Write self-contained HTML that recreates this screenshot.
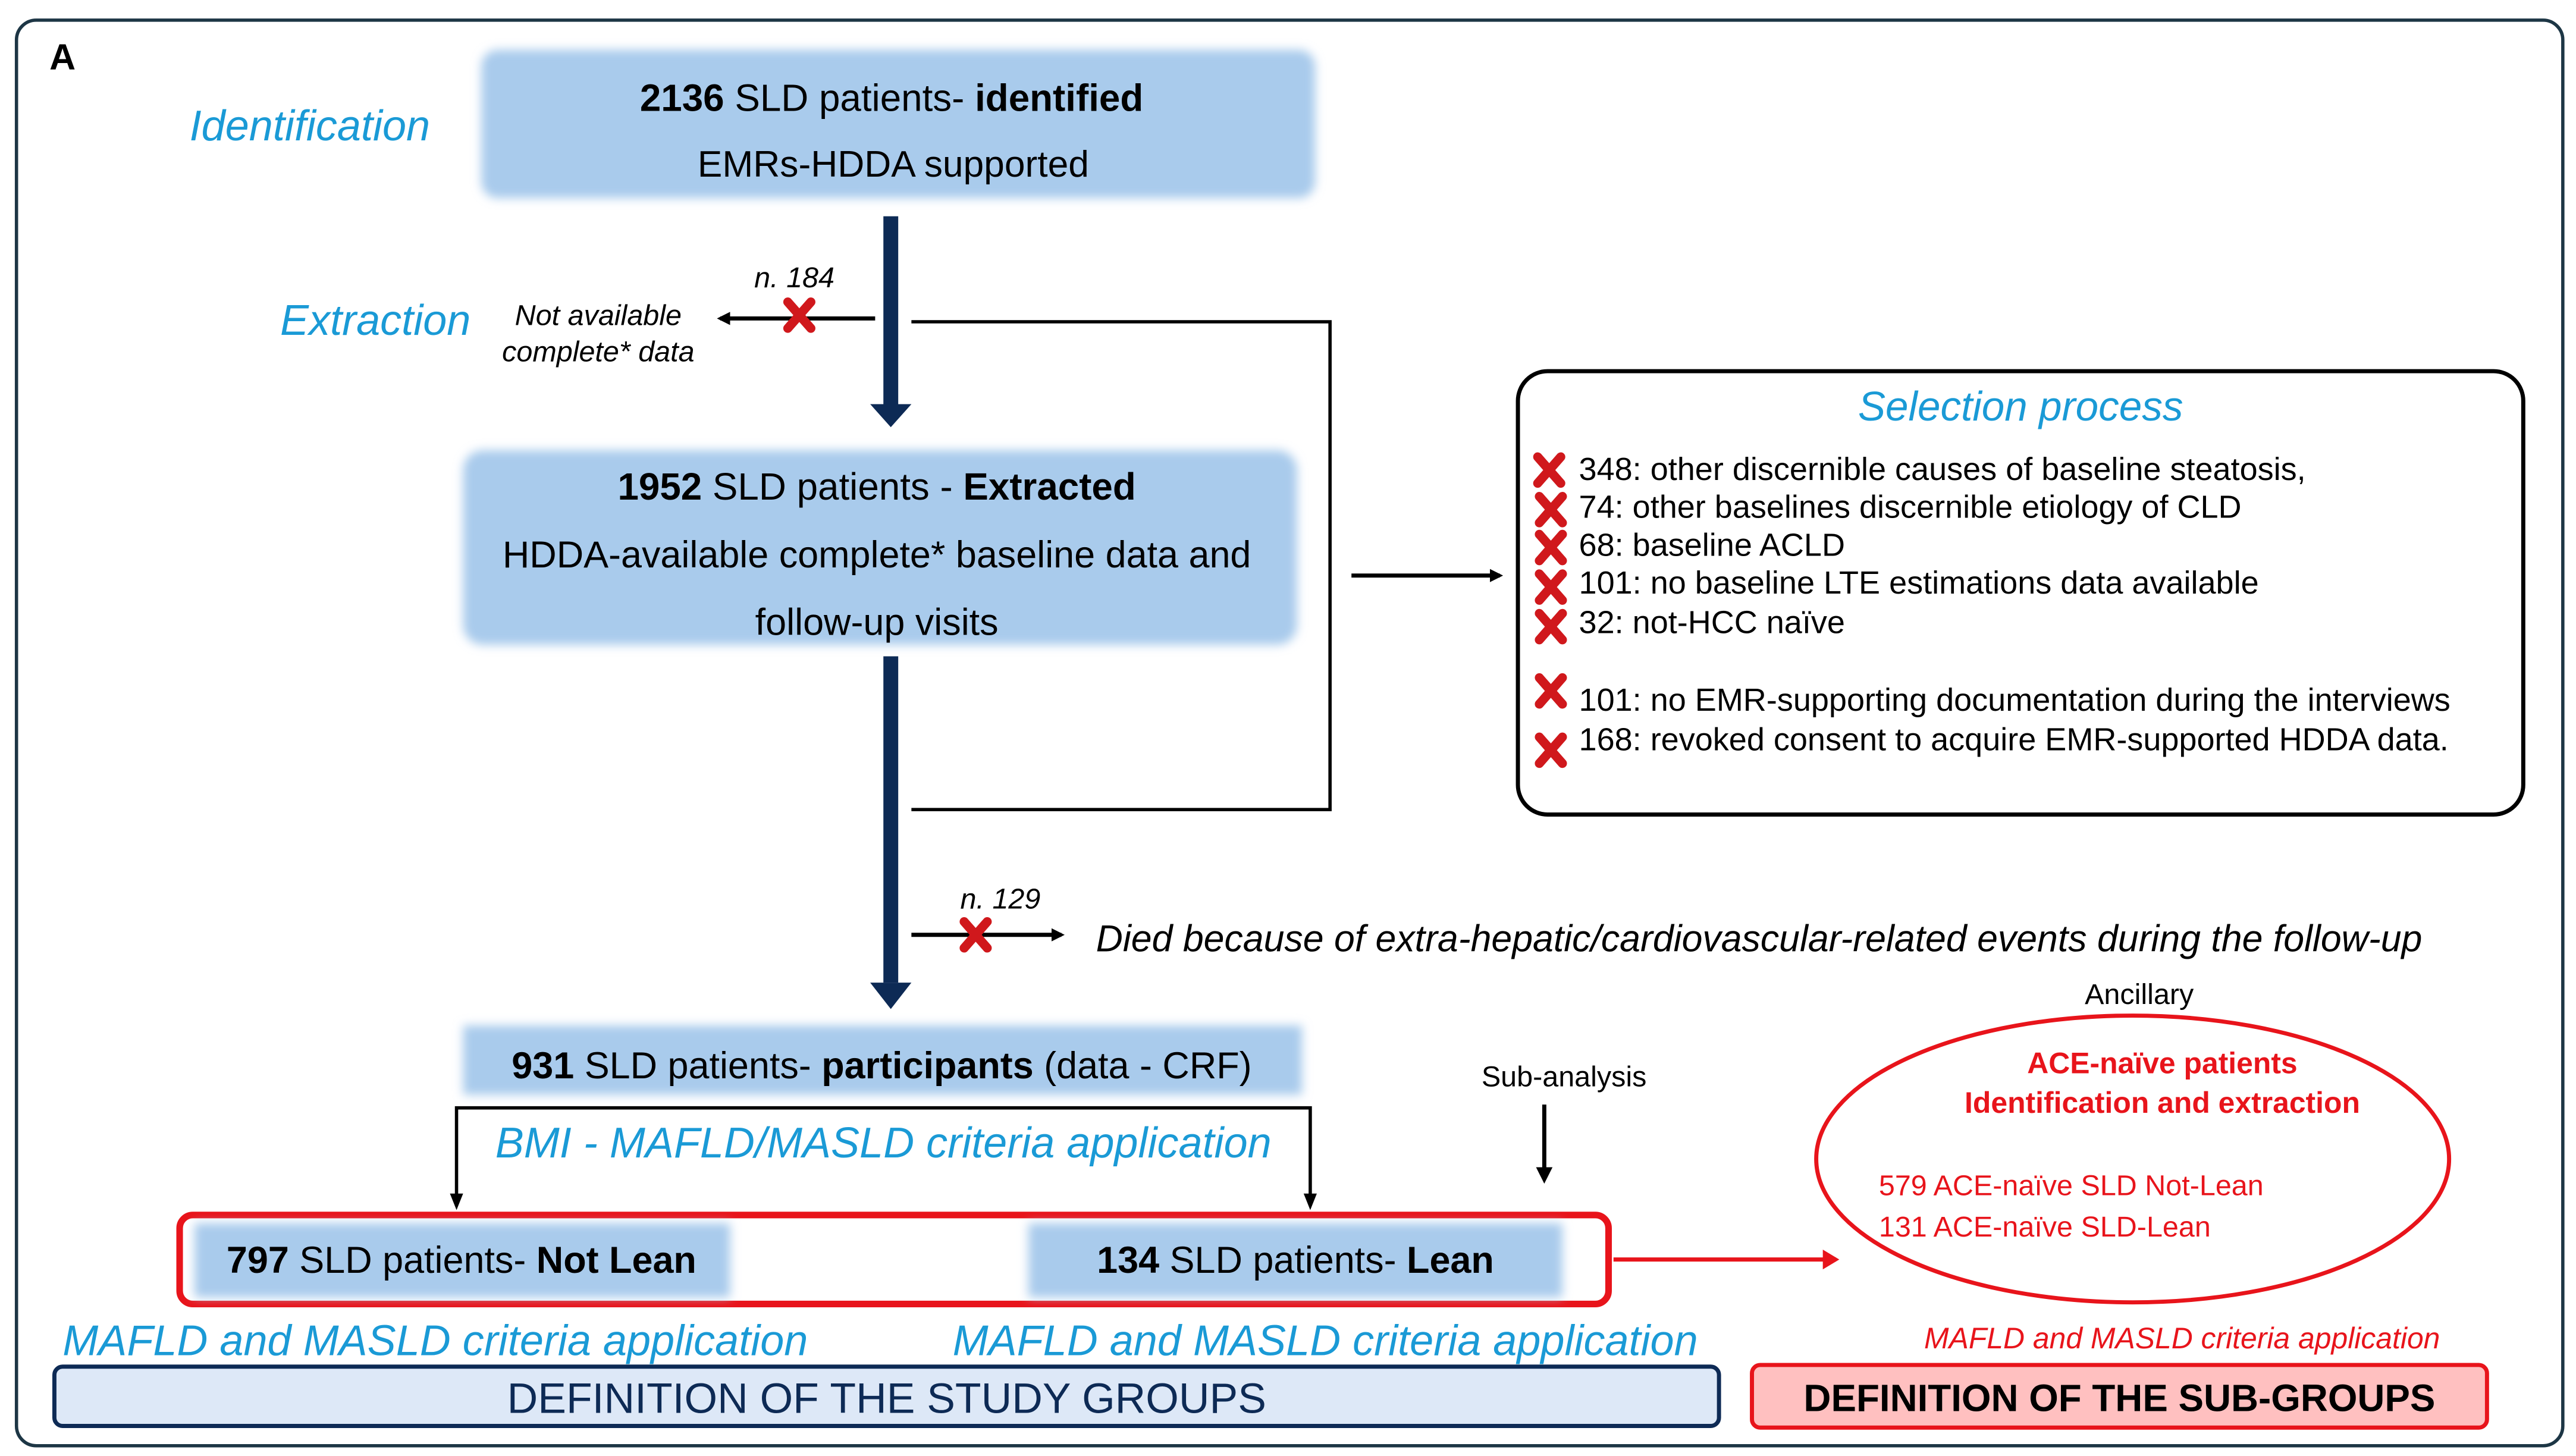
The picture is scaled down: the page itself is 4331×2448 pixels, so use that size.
<!DOCTYPE html>
<html><head><meta charset="utf-8"><style>html,body{margin:0;padding:0;background:#fff}svg{display:block}</style></head>
<body>
<svg width="4331" height="2448" viewBox="0 0 1563 883" xmlns="http://www.w3.org/2000/svg" font-family="Liberation Sans, sans-serif">
<defs>
<filter id="b" x="-5%" y="-20%" width="110%" height="140%"><feGaussianBlur stdDeviation="3"/></filter>
<marker id="ah" markerWidth="8" markerHeight="8" refX="6" refY="4" orient="auto" markerUnits="userSpaceOnUse"><path d="M0,0 L8,4 L0,8 z" fill="#000"/></marker>
<marker id="ahr" markerWidth="10" markerHeight="12" refX="8" refY="6" orient="auto" markerUnits="userSpaceOnUse"><path d="M0,0 L10,6 L0,12 z" fill="#e8141b"/></marker>
<g id="x"><path d="M-7,-8 L7,8 M7,-8 L-7,8" stroke="#d0181c" stroke-width="5.5" stroke-linecap="round"/></g>
</defs>
<rect x="10" y="12" width="1545" height="865" rx="12" fill="#fff" stroke="#1d3645" stroke-width="2"/>
<text x="30" y="42" font-size="22" font-weight="bold">A</text>

<rect x="292" y="30" width="506" height="90" rx="10" fill="#a9cbec" filter="url(#b)"/>
<text x="541" y="67" font-size="23" text-anchor="middle"><tspan font-weight="bold">2136</tspan> SLD patients- <tspan font-weight="bold">identified</tspan></text>
<text x="542" y="107" font-size="22.5" text-anchor="middle">EMRs-HDDA supported</text>
<text x="115" y="85" font-size="26" font-style="italic" fill="#1a9ad6">Identification</text>

<rect x="536" y="131" width="9" height="114" fill="#0d2a55"/>
<path d="M528,245 L553,245 L540.5,259 z" fill="#0d2a55"/>
<text x="482" y="174" font-size="17.5" font-style="italic" text-anchor="middle">n. 184</text>
<line x1="531" y1="193" x2="437" y2="193" stroke="#000" stroke-width="2.5" marker-end="url(#ah)"/>
<use href="#x" x="485" y="191"/>
<text x="363" y="197" font-size="17.5" font-style="italic" text-anchor="middle">Not available</text>
<text x="363" y="219" font-size="17.5" font-style="italic" text-anchor="middle">complete* data</text>
<text x="170" y="203" font-size="26" font-style="italic" fill="#1a9ad6">Extraction</text>

<polyline points="553,195 807,195 807,491 553,491" fill="none" stroke="#000" stroke-width="2"/>
<line x1="820" y1="349" x2="910" y2="349" stroke="#000" stroke-width="2.5" marker-end="url(#ah)"/>

<rect x="281" y="273" width="506" height="118" rx="12" fill="#a9cbec" filter="url(#b)"/>
<text x="532" y="303" font-size="23" text-anchor="middle"><tspan font-weight="bold">1952</tspan> SLD patients - <tspan font-weight="bold">Extracted</tspan></text>
<text x="532" y="344" font-size="22.7" text-anchor="middle">HDDA-available complete* baseline data and</text>
<text x="532" y="385" font-size="22.7" text-anchor="middle">follow-up visits</text>

<rect x="536" y="398" width="9" height="198" fill="#0d2a55"/>
<path d="M528,596 L553,596 L540.5,612 z" fill="#0d2a55"/>
<text x="607" y="551" font-size="17.5" font-style="italic" text-anchor="middle">n. 129</text>
<line x1="553" y1="567" x2="644" y2="567" stroke="#000" stroke-width="2.5" marker-end="url(#ah)"/>
<use href="#x" x="592" y="567"/>
<text x="665" y="577" font-size="22.6" font-style="italic">Died because of extra-hepatic/cardiovascular-related events during the follow-up</text>

<rect x="921" y="225" width="610" height="269" rx="18" fill="#fff" stroke="#000" stroke-width="2.5"/>
<text x="1226" y="255" font-size="25" font-style="italic" fill="#1a9ad6" text-anchor="middle">Selection process</text>
<g font-size="19.5">
<use href="#x" x="940" y="285"/><text x="958" y="291">348: other discernible causes of baseline steatosis,</text>
<use href="#x" x="941" y="309"/><text x="958" y="314">74: other baselines discernible etiology of CLD</text>
<use href="#x" x="941" y="332"/><text x="958" y="337">68: baseline ACLD</text>
<use href="#x" x="941" y="356"/><text x="958" y="360">101: no baseline LTE estimations data available</text>
<use href="#x" x="941" y="380"/><text x="958" y="384">32: not-HCC naïve</text>
<use href="#x" x="941" y="419"/><text x="958" y="431">101: no EMR-supporting documentation during the interviews</text>
<use href="#x" x="941" y="455"/><text x="958" y="455">168: revoked consent to acquire EMR-supported HDDA data.</text>
</g>

<rect x="281" y="622" width="509" height="42" fill="#a9cbec" filter="url(#b)"/>
<text x="535" y="654" font-size="22.7" text-anchor="middle"><tspan font-weight="bold">931</tspan> SLD patients- <tspan font-weight="bold">participants</tspan> (data - CRF)</text>
<polyline points="277,728 277,672 795,672 795,728" fill="none" stroke="#000" stroke-width="2"/>
<path d="M273,724 L281,724 L277,734 z M791,724 L799,724 L795,734 z" fill="#000"/>
<text x="536" y="702" font-size="26" font-style="italic" fill="#1a9ad6" text-anchor="middle">BMI - MAFLD/MASLD criteria application</text>
<text x="949" y="659" font-size="17.5" text-anchor="middle">Sub-analysis</text>
<line x1="937" y1="670" x2="937" y2="714" stroke="#000" stroke-width="2.5"/>
<path d="M932,708 L942,708 L937,718 z" fill="#000"/>

<rect x="109" y="737" width="867" height="54" rx="8" fill="#fff" stroke="#e8141b" stroke-width="4"/>
<rect x="118" y="742" width="325" height="45" fill="#a9cbec" filter="url(#b)"/>
<rect x="624" y="742" width="324" height="45" fill="#a9cbec" filter="url(#b)"/>
<text x="280" y="772" font-size="22.7" text-anchor="middle"><tspan font-weight="bold">797</tspan> SLD patients- <tspan font-weight="bold">Not Lean</tspan></text>
<text x="786" y="772" font-size="22.7" text-anchor="middle"><tspan font-weight="bold">134</tspan> SLD patients- <tspan font-weight="bold">Lean</tspan></text>
<line x1="979" y1="764" x2="1114" y2="764" stroke="#e8141b" stroke-width="2.5" marker-end="url(#ahr)"/>

<text x="1298" y="609" font-size="17.5" text-anchor="middle">Ancillary</text>
<ellipse cx="1294" cy="703" rx="192" ry="87" fill="#fff" stroke="#e8141b" stroke-width="2.5"/>
<text x="1312" y="651" font-size="18" font-weight="bold" fill="#e8141b" text-anchor="middle">ACE-naïve patients</text>
<text x="1312" y="675" font-size="18" font-weight="bold" fill="#e8141b" text-anchor="middle">Identification and extraction</text>
<text x="1140" y="725" font-size="17.5" fill="#e8141b">579 ACE-naïve SLD Not-Lean</text>
<text x="1140" y="750" font-size="17.5" fill="#e8141b">131 ACE-naïve SLD-Lean</text>

<text x="38" y="822" font-size="26" font-style="italic" fill="#1a9ad6">MAFLD and MASLD criteria application</text>
<text x="578" y="822" font-size="26" font-style="italic" fill="#1a9ad6">MAFLD and MASLD criteria application</text>
<text x="1324" y="818" font-size="18" font-style="italic" fill="#e8141b" text-anchor="middle">MAFLD and MASLD criteria application</text>
<rect x="33" y="829" width="1010" height="36" rx="5" fill="#dde8f7" stroke="#0d2a55" stroke-width="2.5"/>
<text x="538" y="857" font-size="25.8" fill="#0d2a55" text-anchor="middle">DEFINITION OF THE STUDY GROUPS</text>
<rect x="1063" y="828" width="446" height="38" rx="5" fill="#ffc0c0" stroke="#e8141b" stroke-width="2.5"/>
<text x="1286" y="856" font-size="23" font-weight="bold" fill="#000" text-anchor="middle">DEFINITION OF THE SUB-GROUPS</text>
</svg>
</body></html>
